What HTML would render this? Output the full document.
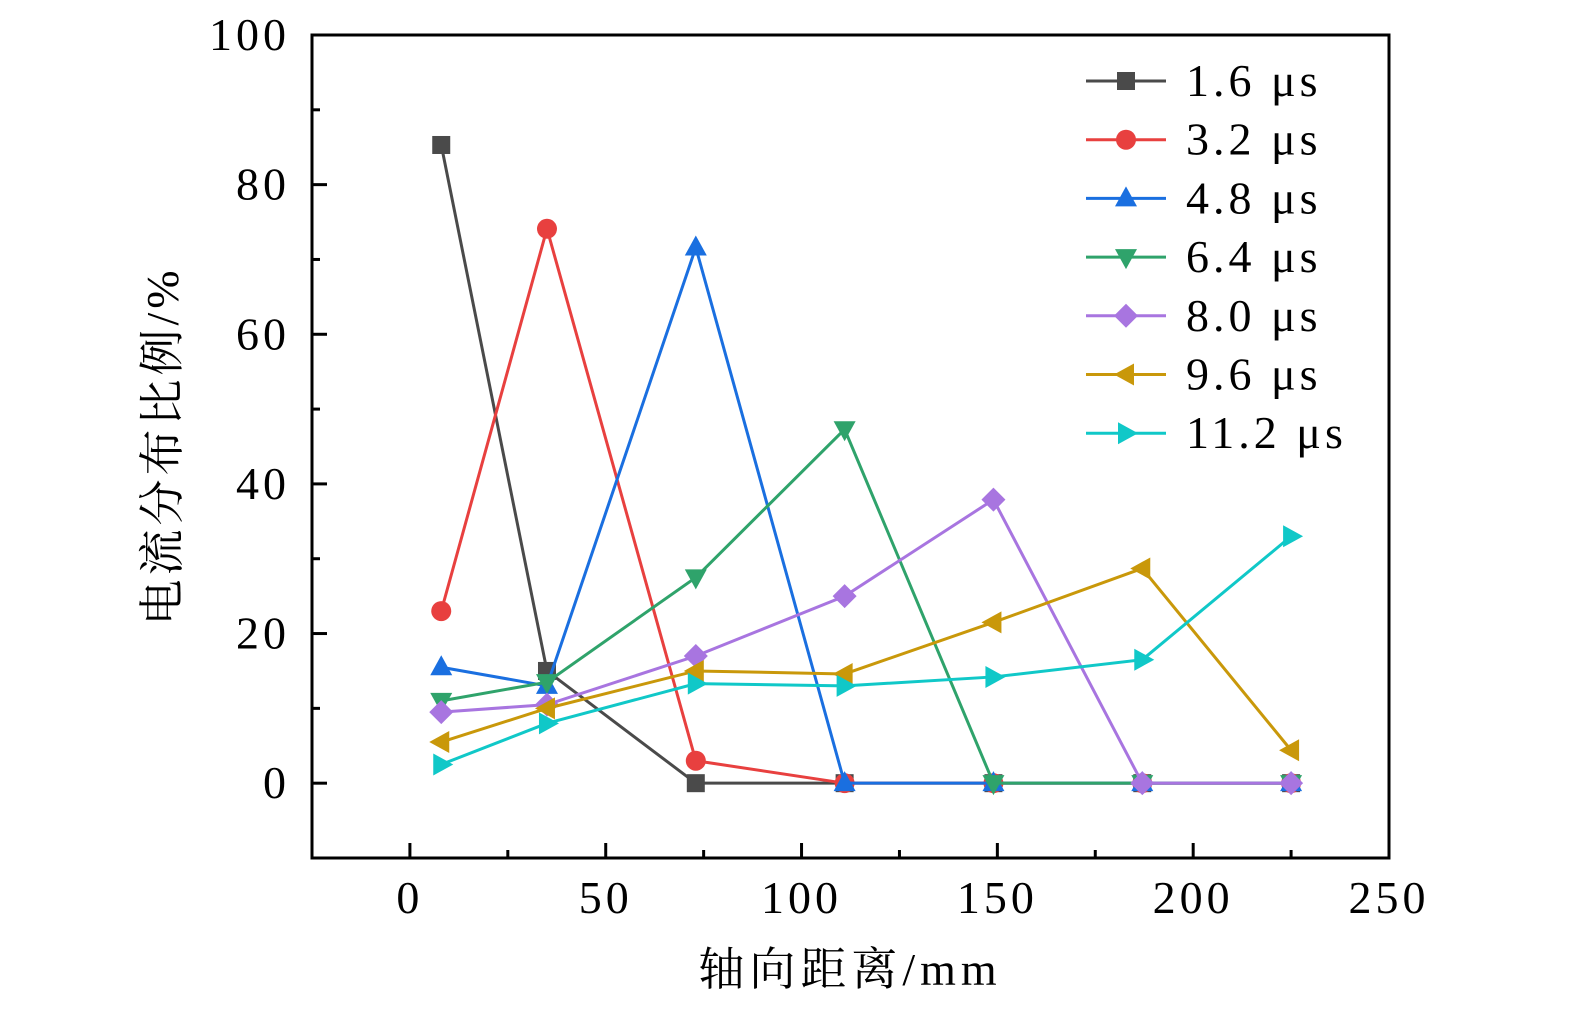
<!DOCTYPE html>
<html><head><meta charset="utf-8"><style>
html,body{margin:0;padding:0;background:#fff;width:1575px;height:1014px;overflow:hidden}
svg text{font-family:"Liberation Serif","Noto Serif CJK SC",serif;fill:#000}
</style></head><body>
<svg id="chart" width="1575" height="1014" xmlns="http://www.w3.org/2000/svg"></svg>
<script>
const xValues=[8,35,73,111,149,187,225];
const seriesLabels=["1.6 μs","3.2 μs","4.8 μs","6.4 μs","8.0 μs","9.6 μs","11.2 μs"];
const s16=[85.3,15,0,0,0,0,0];
const s32=[23,74.1,3,0,0,0,0];
const s48=[15.5,13,71.6,0,0,0,0];
const s64=[11,13.5,27.5,47.3,0,0,0];
const s80=[9.5,10.5,17,25,37.9,0,0];
const s96=[5.5,10,15,14.6,21.5,28.7,4.4];
const s112=[2.5,8,13.3,13,14.2,16.5,33];
const seriesData=[s16,s32,s48,s64,s80,s96,s112];
const colors=["#4a4a4a","#e8403f","#1a6fe0","#2fa36b","#a875e0","#c9980a","#10c8c8"];
const markers=["square","circle","up","down","diamond","left","right"];
const xTicks=[0,50,100,150,200,250];
const yTicks=[0,20,40,60,80,100];
const L=312,R=1389,T=35,B=858,xMin=-25,xMax=250,yMin=-10,yMax=100;
const sx=v=>L+(v-xMin)/(xMax-xMin)*(R-L);
const sy=v=>B-(v-yMin)/(yMax-yMin)*(B-T);
const svg=document.getElementById('chart');
const NS="http://www.w3.org/2000/svg";
function mk(tag,attrs,parent){const e=document.createElementNS(NS,tag);for(const k in attrs)e.setAttribute(k,attrs[k]);(parent||svg).appendChild(e);return e;}
function marker(type,x,y,c,g){
  const r=10;let e;
  if(type==="square")e=mk('rect',{x:x-9,y:y-9,width:18,height:18,fill:c},g);
  else if(type==="circle")e=mk('circle',{cx:x,cy:y,r:r,fill:c},g);
  else{let p;
    if(type==="up")p=[[x,y-12],[x+11,y+8],[x-11,y+8]];
    if(type==="down")p=[[x,y+12],[x+11,y-8],[x-11,y-8]];
    if(type==="left")p=[[x-12,y],[x+8,y-11],[x+8,y+11]];
    if(type==="right")p=[[x+12,y],[x-8,y-11],[x-8,y+11]];
    if(type==="diamond")p=[[x,y-12],[x+12,y],[x,y+12],[x-12,y]];
    e=mk('polygon',{points:p.map(q=>q.join(',')).join(' '),fill:c},g);}
  return e;
}
const frame=mk('rect',{x:L,y:T,width:R-L,height:B-T,fill:'none',stroke:'#000','stroke-width':3});


for(let v=-25;v<=250;v+=25){
  const major=v%50===0;const x=sx(v);
  const t=mk('line',{x1:x,x2:x,y1:B,y2:B-(major?15:8),stroke:'#000','stroke-width':3});
  
  
}
xTicks.forEach(v=>{const t=mk('text',{x:sx(v),y:913,'font-size':46,'letter-spacing':4,'text-anchor':'middle'});t.textContent=v;
  
  });
for(let v=-10;v<=100;v+=10){
  const major=v%20===0;const y=sy(v);
  const t=mk('line',{x1:L,x2:L+(major?15:8),y1:y,y2:y,stroke:'#000','stroke-width':3});
  
  
}
yTicks.forEach(v=>{const t=mk('text',{x:290,y:sy(v)+15,'font-size':46,'letter-spacing':4,'text-anchor':'end'});t.textContent=v;
  
  });
const xt=mk('text',{x:850,y:985,'font-size':46,'letter-spacing':5,'text-anchor':'middle'});xt.textContent="轴向距离/mm";


const yt=mk('text',{x:0,y:0,'font-size':46,'letter-spacing':4,'text-anchor':'middle',transform:'translate(178,446) rotate(-90)'});yt.textContent="电流分布比例/%";


seriesData.forEach((d,i)=>{
  const g=mk('g',{});
  
  
  mk('polyline',{points:d.map((v,j)=>sx(xValues[j])+','+sy(v)).join(' '),fill:'none',stroke:colors[i],'stroke-width':3},g);
  d.forEach((v,j)=>{const m=marker(markers[i],sx(xValues[j]),sy(v),colors[i],g);
    
    });
});
seriesLabels.forEach((lab,i)=>{
  const y=81+i*58.7;
  const g=mk('g',{});
  
  
  mk('line',{x1:1086,x2:1166,y1:y,y2:y,stroke:colors[i],'stroke-width':3},g);
  marker(markers[i],1126,y,colors[i],g);
  const t=mk('text',{x:1186,y:y+15,'font-size':46,'letter-spacing':4},g);t.textContent=lab;
});
</script>
</body></html>
